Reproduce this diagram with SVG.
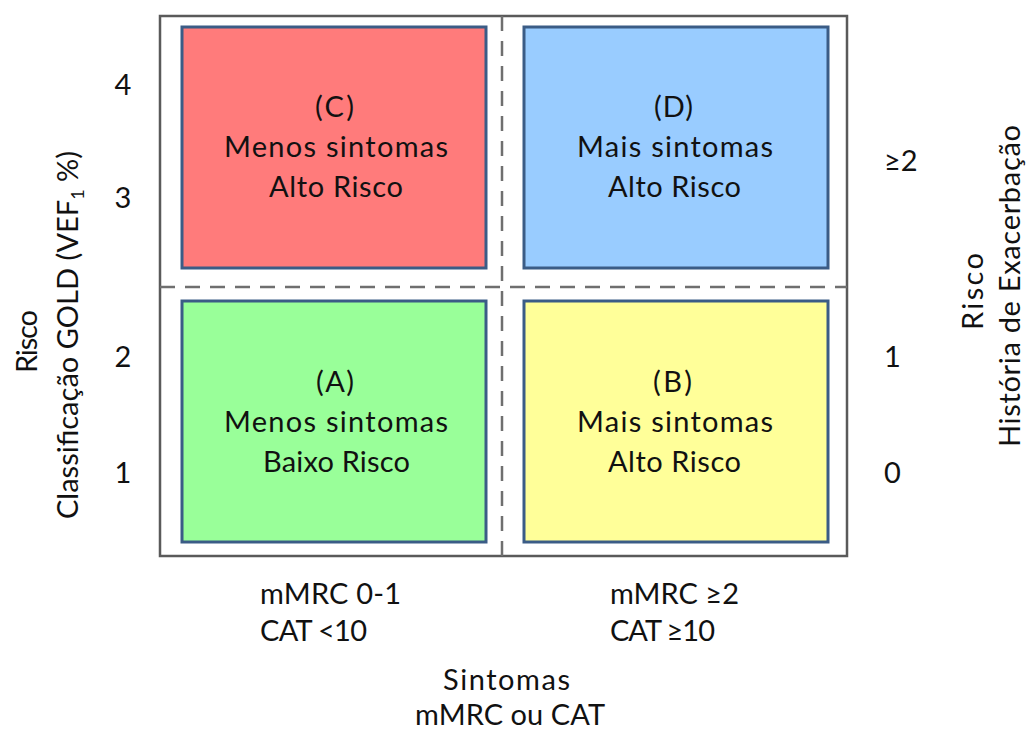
<svg xmlns="http://www.w3.org/2000/svg" width="1027" height="731" viewBox="0 0 1027 731">
  <style>
    text { font-family: Lato, "Open Sans", "Liberation Sans", sans-serif; font-size: 29px; fill: #111; }
    .mid { text-anchor: middle; }
    .box { stroke: #3b5c86; stroke-width: 3; }
    .dash { stroke: #6f6f6f; stroke-width: 2.5; stroke-dasharray: 15 10; fill: none; }
    .frame { stroke: #5a5a5a; stroke-width: 2.5; fill: none; }
  </style>
  <rect width="1027" height="731" fill="#fff"/>

  <!-- frame and quadrant dividers -->
  <g id="connectors">
    <rect class="frame" x="160" y="16" width="687" height="540"/>
    <line class="dash" x1="502" y1="16" x2="502" y2="556"/>
    <line class="dash" x1="160" y1="287" x2="847" y2="287"/>
  </g>

  <g id="quadC">
    <rect class="box" x="182" y="27" width="304" height="241" fill="#ff7b7b"/>
    <text x="315" y="117" textLength="39" lengthAdjust="spacing">(C)</text>
    <text x="224" y="157" textLength="224" lengthAdjust="spacing">Menos sintomas</text>
    <text x="269" y="197" textLength="134" lengthAdjust="spacing">Alto Risco</text>
  </g>
  <g id="quadD">
    <rect class="box" x="524" y="27" width="304" height="241" fill="#99ccff"/>
    <text x="654" y="117" textLength="39" lengthAdjust="spacing">(D)</text>
    <text x="577" y="157" textLength="196" lengthAdjust="spacing">Mais sintomas</text>
    <text x="608" y="197" textLength="133" lengthAdjust="spacing">Alto Risco</text>
  </g>
  <g id="quadA">
    <rect class="box" x="182" y="301" width="304" height="241" fill="#99ff99"/>
    <text x="316" y="392" textLength="38" lengthAdjust="spacing">(A)</text>
    <text x="224" y="432" textLength="224" lengthAdjust="spacing">Menos sintomas</text>
    <text x="263" y="472" textLength="147" lengthAdjust="spacing">Baixo Risco</text>
  </g>
  <g id="quadB">
    <rect class="box" x="524" y="301" width="304" height="241" fill="#ffff99"/>
    <text x="653" y="392" textLength="39" lengthAdjust="spacing">(B)</text>
    <text x="577" y="432" textLength="196" lengthAdjust="spacing">Mais sintomas</text>
    <text x="608" y="472" textLength="133" lengthAdjust="spacing">Alto Risco</text>
  </g>

  <!-- left scale -->
  <g id="leftScale">
    <text class="mid" x="123" y="95">4</text>
    <text class="mid" x="123" y="208">3</text>
    <text class="mid" x="123" y="367">2</text>
    <text class="mid" x="123" y="483">1</text>
  </g>
  <g id="leftAxis">
    <text transform="translate(37,373) rotate(-90)" textLength="63" lengthAdjust="spacing">Risco</text>
    <text class="mid" transform="translate(78,335) rotate(-90)">Classificação GOLD (VEF<tspan font-size="18" dy="6">1</tspan><tspan dy="-6"> %)</tspan></text>
  </g>

  <!-- right scale -->
  <g id="rightScale">
    <text x="884" y="171">≥2</text>
    <text x="884" y="367">1</text>
    <text x="884" y="483">0</text>
  </g>
  <g id="rightAxis">
    <text transform="translate(983,330) rotate(-90)" textLength="77" lengthAdjust="spacing">Risco</text>
    <text transform="translate(1020,447) rotate(-90)" textLength="322" lengthAdjust="spacing">História de Exacerbação</text>
  </g>

  <!-- bottom scale -->
  <g id="bottomScale">
    <text x="260" y="604" textLength="141" lengthAdjust="spacing">mMRC 0-1</text>
    <text x="260" y="641" textLength="107" lengthAdjust="spacing">CAT &lt;10</text>
    <text x="610" y="604" textLength="129" lengthAdjust="spacing">mMRC ≥2</text>
    <text x="610" y="641" textLength="105" lengthAdjust="spacing">CAT ≥10</text>
  </g>
  <g id="bottomAxis">
    <text x="443" y="690" textLength="127" lengthAdjust="spacing">Sintomas</text>
    <text x="415" y="725" textLength="190" lengthAdjust="spacing">mMRC ou CAT</text>
  </g>
</svg>
